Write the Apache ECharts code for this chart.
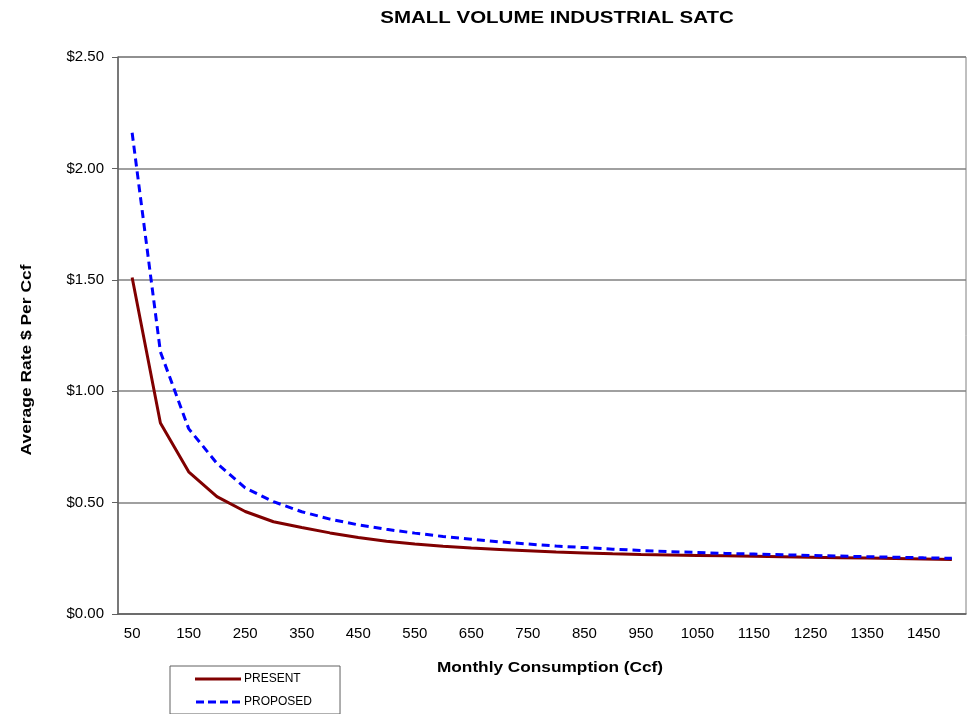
<!DOCTYPE html>
<html>
<head>
<meta charset="utf-8">
<title>Small Volume Industrial SATC</title>
<script src="https://cdn.jsdelivr.net/npm/echarts@6/dist/echarts.min.js"></script>
<style>
  html, body { margin: 0; padding: 0; background: #fff; }
  #chart { width: 971px; height: 714px; }
</style>
</head>
<body>
<div id="chart"></div>
<script>
// Monthly consumption levels (Ccf)
const consumption = [50, 100, 150, 200, 250, 300, 350, 400, 450, 500,
  550, 600, 650, 700, 750, 800, 850, 900, 950, 1000,
  1050, 1100, 1150, 1200, 1250, 1300, 1350, 1400, 1450, 1500];

// Average rate, $ per Ccf
const presentRate = [1.51, 0.857, 0.638, 0.527, 0.46, 0.414, 0.388, 0.364, 0.343, 0.327,
  0.314, 0.304, 0.296, 0.29, 0.284, 0.278, 0.274, 0.27, 0.267, 0.265,
  0.263, 0.261, 0.259, 0.257, 0.255, 0.253, 0.251, 0.249, 0.247, 0.245];
const proposedRate = [2.16, 1.177, 0.832, 0.676, 0.566, 0.504, 0.459, 0.426, 0.4, 0.38,
  0.363, 0.348, 0.336, 0.324, 0.314, 0.305, 0.298, 0.291, 0.285, 0.28,
  0.276, 0.272, 0.269, 0.266, 0.263, 0.26, 0.257, 0.255, 0.252, 0.25];

const rateTicks = [0, 0.5, 1, 1.5, 2, 2.5];

const chart = echarts.init(document.getElementById('chart'));
const font = '"Liberation Sans", Arial, sans-serif';

// Bold headings are drawn as wide text, so they get a horizontal stretch.
function heading(text, x, y, size, stretch, rotation) {
  return {
    type: 'text',
    x: x, y: y,
    rotation: rotation || 0,
    scaleX: stretch,
    style: {
      text: text,
      font: 'bold ' + size + 'px ' + font,
      fill: '#000',
      textAlign: 'center',
      textVerticalAlign: 'middle'
    }
  };
}

chart.setOption({
  animation: false,
  backgroundColor: '#fff',
  grid: {
    left: 118, right: 5, top: 57, bottom: 100,
    show: true, borderColor: '#808080', borderWidth: 1
  },
  legend: {
    orient: 'vertical',
    left: 170, top: 666,
    padding: [7, 28, 6, 25],
    itemGap: 11,
    itemWidth: 46, itemHeight: 3,
    borderColor: '#606060', borderWidth: 1,
    textStyle: { fontFamily: font, fontSize: 12, color: '#000', padding: [0, 0, 0, -2] },
    data: [
      { name: 'PRESENT', icon: 'path://M0,0H46V3H0Z' },
      { name: 'PROPOSED', icon: 'path://M0,0H8V3H0ZM12,0H20V3H12ZM24,0H32V3H24ZM36,0H44V3H36Z' }
    ]
  },
  xAxis: {
    type: 'category',
    data: consumption,
    boundaryGap: true,
    axisLine: { lineStyle: { color: '#606060', width: 1.5 } },
    axisTick: { alignWithLabel: false, interval: 0, length: 6, lineStyle: { color: '#606060' } },
    axisLabel: { interval: 1, fontFamily: font, fontSize: 15, color: '#000', margin: 12 },
    splitLine: { show: false }
  },
  yAxis: {
    type: 'value',
    min: rateTicks[0],
    max: rateTicks[rateTicks.length - 1],
    interval: 0.5,
    axisLine: { show: true, lineStyle: { color: '#606060', width: 1.5 } },
    axisTick: { show: true, inside: false, length: 6, lineStyle: { color: '#606060' } },
    axisLabel: {
      fontFamily: font, fontSize: 15, color: '#000', margin: 14,
      formatter: v => '$' + v.toFixed(2)
    },
    splitLine: { show: true, lineStyle: { color: '#808080', width: 1.5 } }
  },
  graphic: [
    heading('SMALL VOLUME INDUSTRIAL SATC', 557, 19, 16, 1.28),
    heading('Average Rate $ Per Ccf', 27, 360, 15, 1.16, Math.PI / 2),
    heading('Monthly Consumption (Ccf)', 550, 668, 15, 1.15)
  ],
  series: [
    {
      name: 'PRESENT',
      type: 'line',
      data: presentRate,
      symbol: 'none',
      color: '#800000',
      lineStyle: { color: '#800000', width: 3 }
    },
    {
      name: 'PROPOSED',
      type: 'line',
      data: proposedRate,
      symbol: 'none',
      color: '#0000ff',
      lineStyle: { color: '#0000ff', width: 3, type: [8, 5] }
    }
  ]
});
</script>
</body>
</html>
